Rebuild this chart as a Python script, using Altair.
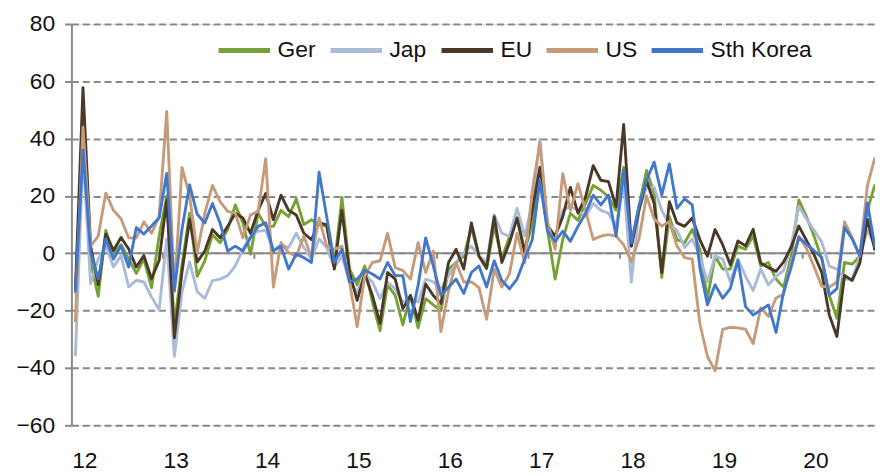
import json
import altair as alt
import pandas as pd

series_names = ["Ger", "Jap", "EU", "US", "Sth Korea"]
series_colors = ["#77A134", "#A9BBD7", "#4A3828", "#C59B79", "#4377CB"]

ger = [-14, 45, -3, -15, 8, 0, 3, -2, -7, -2,
       -12, 6, 20, -25, -4, 14, -8, -2.6, 6.5, 3.7,
       8.3, 16.9, 10.6, -0.3, 14, 9.4, 9.4, 15, 12.8, 19,
       10, 11.7, 10, 9.4, -4.4, 19.5, -5.5, -11, -4.4, -17,
       -27, -11, -14.7, -25, -14.7, -26, -15.8, -18, -20, -5.5,
       -3.2, -1, 9, -1, -5.5, 9.4, -2, 6, 12.3, 1,
       10, 25.5, 8, -9, 4.8, 14, 11.5, 17.4, 23.7, 22,
       19.7, 15, 30, 2.5, 16.3, 28.9, 20.9, -8.4, 12.8, 4.8,
       3.7, 8.3, 1.4, -15.8, -1, -5.5, -5.5, 2.5, 1.4, 6,
       -4.4, -3.2, -9, -11.8, -1, 18.6, 12.8, 6, -2, -14.7,
       -22.7, -3.2, -3.8, -1, 15, 24]

jap = [-35.9, 35, -10.6, -2, 2.6, -4.8, -0.8, -11.7, -9.4, -10,
       -15.2, -19.8, 5, -35.9, -13.4, -3, -13.4, -15.7, -9.5, -9,
       -7.8, -4.4, 1.4, 6, 7.7, 8, 1, 3, 2, 7,
       2, -2, 5, 2, -5, -1, -10, -13.5, -7.8, -10,
       -15.8, -10, -12.4, -17, -15.8, -17, -9, -10, -12.4, -7.8,
       -3.2, 0.2, 2.5, -1, -3.2, 13.4, 7, 6, 15.7, 6,
       17, 39.8, 10, 6, 15, 16.3, 15, 12.8, 17.4, 15,
       14, 9.4, 25, -10, 15, 23, 23, 15, 10, 8,
       2, 5, -1, -10, -1, -2, -10, -2, -8, -13,
       -5.5, -11, -8, -6, 2.6, 16.4, 12, 8, 4, -4.5,
       -5.5, -9, -9, -1, 8, 3]

eu = [-13, 57.8, 2.6, -11, 6.7, 1, 5.5, 1.5, -4.8, -0.8,
      -8.9, -2.5, 18.7, -29.5, -6.5, 11.8, -3, 0.8, 8.3, 5.4,
      9.4, 14, 12.3, 7, 15, 20.9, 11.7, 20.3, 15, 13.4,
      7, 4.8, 10.6, 10, -5.5, 15, -6.7, -16.4, -7.2, -14.7,
      -24.4, -6.7, -9, -19.3, -14.7, -23.3, -10.7, -14.7, -17.5, -3.2,
      1.4, -5.5, 10.6, -1, -5, 12.8, -3.2, 3.7, 12.3, 0.2,
      15, 30, 9.4, 6, 12.8, 23, 14, 19.7, 30.6, 25.5,
      25, 16.3, 45, 2.5, 15, 25.5, 17.4, -6.7, 18, 10.6,
      9.4, 12.3, 4.8, -1, 8.3, 3, -4, 4.3, 2.6, 8.4,
      -3.4, -5, -6.3, -3, 2.2, 9.5, 4.5, -0.5, -6.6, -21.5,
      -29, -7.7, -9.5, -3.5, 11.8, 1]

us = [-24, 44, 2.5, 6, 21, 15, 12, 5.4, 5.4, 11,
      7, 12.8, 49.5, -13.4, 30, 20, 0.3, 14, 23.7, 18,
      14.6, 14, 5.4, 13.4, 14.6, 33, -11.8, 3.7, 0.2, -1,
      6, -1.5, 12.3, 2.5, 1.4, 2.5, -10, -25.6, -7.8, -3.2,
      -2.6, 7, -5, -6, -9, 3.7, -6.7, 0.8, -27.3, -13,
      -3.2, -10, -10, -12, -23, -5.5, -11.8, -7.2, 7, -3.2,
      22, 38.6, 10.6, 1.4, 27.8, 15, 24.3, 15, 4.8, 6,
      6.5, 6, 3, -3, 5, 20, 12, 9.5, 11, 2.5,
      -1.5, -2, -24.5, -36, -41, -26.5, -25.8, -26, -26.5, -31.5,
      -19, -22, -15.6, -14.3, -3.2, 6, 1.7, -4.7, -11.5, -11.8,
      -10, 11, 5.5, -1, 23.6, 33.5]

korea = [-13.4, 36, 0.3, -8.9, 5, -2, 2.6, -4.8, 9, 6.7,
         9.5, 12.4, 27.9, -12.9, 8.4, 23.9, 13.6, 10.6, 17.4, 10.6,
         0.8, 2.5, 0.8, 5.4, 9.4, 10.6, 0.8, 2.5, -5.5, -0.3,
         -1.5, -3.2, 28.3, 12.8, -3.2, 1.4, -10, -9, -6, -7.2,
         -9, -3.2, -7.8, -7.8, -23.8, -11.2, 5.4, -4.4, -14.7, -11.8,
         -9, -14, -6.7, -4.4, -11.8, -2.6, -9.5, -12.4, -9, -2,
         4.8, 25.5, 7.7, 4.2, 7.7, 4.2, 9.4, 14, 20.3, 16.9,
         20.3, 6, 28.9, 3.7, 16.3, 25.5, 31.8, 20.3, 31.2, 15.7,
         19, 16.9, -5, -18, -11, -15.7, -12.3, -2.5, -18.6, -21.5,
         -19.8, -18, -27.6, -13.4, -4.8, 5.5, 3.2, 0.9, -1.4, -14.6,
         -12.3, 9, 5, -0.8, 17.6, 2]

year_labels = ["12", "13", "14", "15", "16", "17", "18", "19", "20"]
y_ticks = [-60, -40, -20, 0, 20, 40, 60, 80]

FONT = "Liberation Sans, Arial, sans-serif"
FS = 23
GRID = "#898989"

rows = []
for name, vals in zip(series_names, [ger, jap, eu, us, korea]):
    for i, v in enumerate(vals):
        rows.append({"month": i, "value": v, "series": name})
df = pd.DataFrame(rows)

x_scale = alt.Scale(domain=[-0.52, 105], nice=False, zero=False)
y_scale = alt.Scale(domain=[-60, 80], nice=False, zero=False)

year_pos = [12 * k for k in range(len(year_labels))]
label_expr = json.dumps(year_labels) + "[round(datum.value / 12)]"

x_axis = alt.Axis(values=year_pos, labelExpr=label_expr, domain=False, ticks=False,
                  grid=False, labelFontSize=FS, labelFont=FONT, labelColor="#111111",
                  labelPadding=25, labelOffset=9, title=None, labelFlush=False)
y_axis = alt.Axis(values=y_ticks, grid=True, gridDash=[7, 4], gridColor=GRID, gridWidth=2,
                  domain=True, domainColor=GRID, domainWidth=2, ticks=True, tickColor=GRID,
                  tickWidth=2, tickSize=7, labelFontSize=FS, labelFont=FONT,
                  labelColor="#111111", labelPadding=10, title=None)

base = alt.Chart(df)

lines = []
for name in series_names:
    lines.append(
        base.transform_filter(alt.datum.series == name)
        .mark_line(strokeWidth=2.9, clip=True, strokeJoin="round")
        .encode(
            x=alt.X("month:Q", scale=x_scale, axis=x_axis),
            y=alt.Y("value:Q", scale=y_scale, axis=y_axis),
            color=alt.Color("series:N",
                            scale=alt.Scale(domain=series_names, range=series_colors),
                            legend=alt.Legend(title=None, orient="none", legendX=146, legendY=-2,
                                              direction="horizontal", symbolType="stroke",
                                              symbolSize=2704, symbolStrokeWidth=5,
                                              labelFontSize=FS, labelFont=FONT,
                                              labelColor="#111111", columnPadding=4,
                                              labelOffset=5, padding=0)),
        )
    )

zero_line = alt.Chart(pd.DataFrame({"y": [0]})).mark_rule(color=GRID, strokeWidth=2).encode(
    y=alt.Y("y:Q", scale=y_scale))

boundaries = pd.DataFrame({"b": [12 * k - 0.5 for k in range(1, len(year_labels))]})
zero_ticks = alt.Chart(boundaries).mark_rule(color=GRID, strokeWidth=2).encode(
    x=alt.X("b:Q", scale=x_scale), y=alt.datum(0), y2=alt.datum(-1.9))

chart = alt.layer(zero_line, zero_ticks, *lines).properties(
    width=811, height=405,
    autosize=alt.AutoSizeParams(type="none"),
    padding={"left": 64, "top": 14, "right": 0, "bottom": 46},
).configure_view(stroke=None).configure(background="white")

chart.save("out.html", embed_options={"renderer": "svg", "actions": False})
